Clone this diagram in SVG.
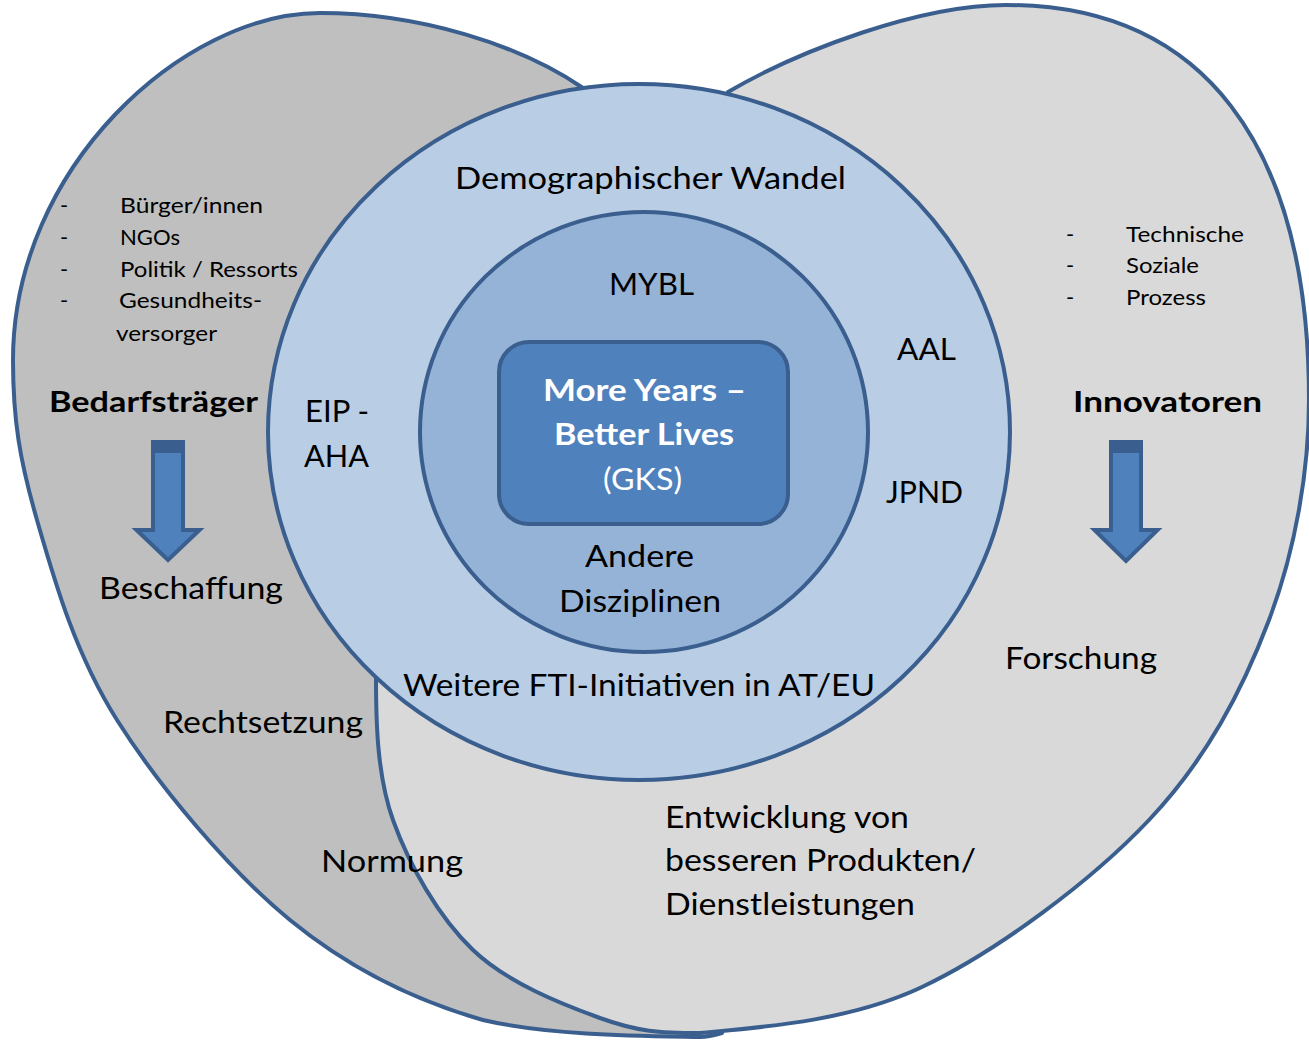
<svg xmlns="http://www.w3.org/2000/svg" width="1309" height="1040" viewBox="0 0 1309 1040">
<style>
.ol{stroke:#3a5f8f;stroke-width:4;stroke-linejoin:round}
.lobeL{fill:#bfbfbf}
.lobeR{fill:#d9d9d9}
.ring1{fill:#b9cde5}
.ring2{fill:#95b3d7}
.core{fill:#4f81bd;stroke:#3a5f8f;stroke-width:4}
.arr{fill:#4f81bd;stroke:#3a5f8f;stroke-width:4;stroke-linejoin:miter}
.band{fill:#3a5f8f}
text{font-family:Lato,"Open Sans","Liberation Sans",sans-serif;fill:#000}
.big{font-size:31px}
.sm{font-size:22px}
.bold{font-size:29px;font-weight:bold}
.w{fill:#fff;font-size:31px}
.wb{fill:#fff;font-size:31px;font-weight:bold}
</style>
<rect x="0" y="0" width="1309" height="1040" fill="#ffffff"/>
<g id="node-bedarfstraeger-lobe">
<path class="lobeL ol" d="M583,88 L650,300 L690,900 L722,1033 C712,1036 706,1037 700,1037 C647,1036 551,1036 483,1020 C414.7,1000.5 351,970 290,920 C229,870 159.2,786.7 117,720 C74.8,653.3 54.3,580 37,520 C19.7,460 13,420 13,360 C13,168 183,13 320,13 C420,13 520,45 583,88 Z"/>
</g>
<g id="node-innovatoren-lobe">
<path class="lobeR ol" d="M376,678 C376,720 376.8,774.7 393,820 C409.2,865.3 438.5,917 473,950 C507.5,983 562.2,1004.2 600,1018 C637.8,1031.8 660,1033 700,1033 C753.7,1027.8 847.2,1022.5 922,987 C996.8,951.5 1091.2,881.2 1149,820 C1206.8,758.8 1242.5,690 1269,620 C1295.5,550 1309,470 1309,400 C1309,143 1202,5 1006,5 C920,5 800,50 728,92 L376,678 Z"/>
</g>
<g id="node-outer-ring">
<ellipse class="ring1 ol" cx="639" cy="432" rx="371" ry="348"/>
</g>
<g id="node-inner-ring">
<ellipse class="ring2 ol" cx="644" cy="432" rx="224" ry="220"/>
</g>
<g id="node-core">
<rect class="core" x="499" y="342" width="289" height="182" rx="30" ry="30"/>
<text class="wb" x="543" y="401" textLength="203" lengthAdjust="spacingAndGlyphs">More Years –</text>
<text class="wb" x="554" y="445" textLength="180" lengthAdjust="spacingAndGlyphs">Better Lives</text>
<text class="w" x="603" y="490" textLength="79" lengthAdjust="spacingAndGlyphs">(GKS)</text>
</g>
<g id="connectors">
<g id="arrow-left">
<path class="arr" d="M153,442 L183,442 L183,530 L199.5,530 L168,560 L136.5,530 L153,530 Z"/>
<rect class="band" x="151" y="440" width="34" height="13"/>
</g>
<g id="arrow-right">
<path class="arr" d="M1111,442 L1141,442 L1141,530 L1157.5,530 L1126,561 L1094.5,530 L1111,530 Z"/>
<rect class="band" x="1109" y="440" width="34" height="13"/>
</g>
</g>
<g id="labels-rings">
<text class="big" x="455" y="189" textLength="391" lengthAdjust="spacingAndGlyphs">Demographischer Wandel</text>
<text class="big" x="609" y="295" textLength="85" lengthAdjust="spacingAndGlyphs">MYBL</text>
<text class="big" x="897" y="360" textLength="59" lengthAdjust="spacingAndGlyphs">AAL</text>
<text class="big" x="305" y="422" textLength="64" lengthAdjust="spacingAndGlyphs">EIP -</text>
<text class="big" x="304" y="467" textLength="65" lengthAdjust="spacingAndGlyphs">AHA</text>
<text class="big" x="886" y="503" textLength="77" lengthAdjust="spacingAndGlyphs">JPND</text>
<text class="big" x="585" y="567" textLength="109" lengthAdjust="spacingAndGlyphs">Andere</text>
<text class="big" x="559" y="612" textLength="162" lengthAdjust="spacingAndGlyphs">Disziplinen</text>
<text class="big" x="403" y="696" textLength="472" lengthAdjust="spacingAndGlyphs">Weitere FTI-Initiativen in AT/EU</text>
</g>
<g id="labels-bedarfstraeger">
<text class="sm" x="60" y="213">-</text>
<text class="sm" x="120" y="213" textLength="143" lengthAdjust="spacingAndGlyphs">Bürger/innen</text>
<text class="sm" x="60" y="245">-</text>
<text class="sm" x="120" y="245" textLength="60" lengthAdjust="spacingAndGlyphs">NGOs</text>
<text class="sm" x="60" y="277">-</text>
<text class="sm" x="120" y="277" textLength="178" lengthAdjust="spacingAndGlyphs">Politik / Ressorts</text>
<text class="sm" x="60" y="308">-</text>
<text class="sm" x="119" y="308" textLength="143" lengthAdjust="spacingAndGlyphs">Gesundheits-</text>
<text class="sm" x="116" y="341" textLength="101" lengthAdjust="spacingAndGlyphs">versorger</text>
<text class="bold" x="49" y="412" textLength="209" lengthAdjust="spacingAndGlyphs">Bedarfsträger</text>
<text class="big" x="99" y="599" textLength="184" lengthAdjust="spacingAndGlyphs">Beschaffung</text>
<text class="big" x="163" y="733" textLength="200" lengthAdjust="spacingAndGlyphs">Rechtsetzung</text>
<text class="big" x="321" y="872" textLength="142" lengthAdjust="spacingAndGlyphs">Normung</text>
</g>
<g id="labels-innovatoren">
<text class="sm" x="1066" y="242">-</text>
<text class="sm" x="1126" y="242" textLength="118" lengthAdjust="spacingAndGlyphs">Technische</text>
<text class="sm" x="1066" y="273">-</text>
<text class="sm" x="1126" y="273" textLength="73" lengthAdjust="spacingAndGlyphs">Soziale</text>
<text class="sm" x="1066" y="305">-</text>
<text class="sm" x="1126" y="305" textLength="80" lengthAdjust="spacingAndGlyphs">Prozess</text>
<text class="bold" x="1073" y="412" textLength="189" lengthAdjust="spacingAndGlyphs">Innovatoren</text>
<text class="big" x="1005" y="669" textLength="152" lengthAdjust="spacingAndGlyphs">Forschung</text>
<text class="big" x="665" y="828" textLength="244" lengthAdjust="spacingAndGlyphs">Entwicklung von</text>
<text class="big" x="665" y="871" textLength="311" lengthAdjust="spacingAndGlyphs">besseren Produkten/</text>
<text class="big" x="665" y="915" textLength="250" lengthAdjust="spacingAndGlyphs">Dienstleistungen</text>
</g>
</svg>
